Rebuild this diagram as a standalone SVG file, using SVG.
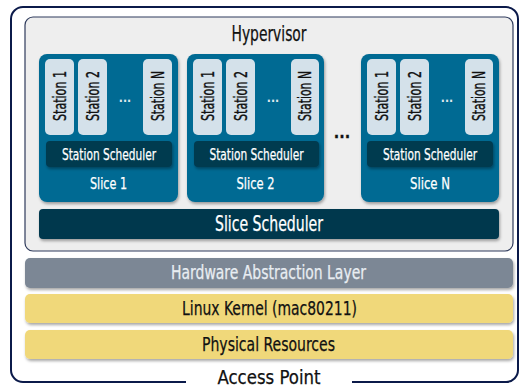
<svg xmlns="http://www.w3.org/2000/svg" width="520" height="389" viewBox="0 0 520 389">
<defs>
<style>
text{font-family:"Liberation Sans Narrow","DejaVu Sans Condensed","Liberation Sans",sans-serif;text-anchor:middle}
.slice{fill:#026a93}
.st{fill:#d4e1ea}
.sched{fill:#053a50}
.w{fill:#ffffff;stroke:#ffffff;stroke-width:0.25}
.k{fill:#111111;stroke:#111111;stroke-width:0.25}
.stt{font-size:17px;fill:#111;stroke:#111;stroke-width:0.35;dominant-baseline:central}
.dots{font-size:12px;fill:#e0e8ee;font-weight:bold}
.yel{fill:#f0d87a}
</style>
<filter id="sh" x="-10%" y="-10%" width="120%" height="130%">
<feDropShadow dx="1" dy="2" stdDeviation="1.5" flood-color="#000" flood-opacity="0.35"/>
</filter>
</defs>
<rect width="520" height="389" fill="#ffffff"/>
<g id="access-point">
<path d="M186 382 H23 A12 12 0 0 1 11 370 V19 A12 12 0 0 1 23 7 H506 A12 12 0 0 1 518 19 V370 A12 12 0 0 1 506 382 H352" fill="none" stroke="#0b1a4a" stroke-width="2"/>
<text x="269" y="384" font-size="19" class="k" textLength="103" lengthAdjust="spacingAndGlyphs">Access Point</text>
</g>
<g id="hypervisor">
<rect x="25" y="17" width="488" height="234" rx="8" fill="#eeeeee" stroke="#2f3b5c" stroke-width="1.2"/>
<text x="269" y="41" font-size="21" class="k" textLength="75" lengthAdjust="spacingAndGlyphs">Hypervisor</text>
</g>
<g id="slice1">
<rect x="39" y="54" width="139" height="148" rx="8" class="slice" filter="url(#sh)"/>
<rect x="45" y="59" width="29" height="76" rx="5" class="st"/>
<rect x="78" y="59" width="29" height="76" rx="5" class="st"/>
<rect x="143" y="59" width="29" height="76" rx="5" class="st"/>
<text class="stt" transform="translate(59.5,96) rotate(-90)" textLength="50" lengthAdjust="spacingAndGlyphs">Station 1</text>
<text class="stt" transform="translate(92.5,96) rotate(-90)" textLength="50" lengthAdjust="spacingAndGlyphs">Station 2</text>
<text class="stt" transform="translate(157.5,96) rotate(-90)" textLength="50" lengthAdjust="spacingAndGlyphs">Station N</text>
<text x="125" y="102" class="dots">...</text>
<rect x="46" y="141" width="126" height="26" rx="4" class="sched" filter="url(#sh)"/>
<text x="109" y="160" font-size="16" class="w" textLength="94" lengthAdjust="spacingAndGlyphs">Station Scheduler</text>
<text x="108.5" y="189" font-size="16.5" class="w" textLength="37" lengthAdjust="spacingAndGlyphs">Slice 1</text>
</g>
<g id="slice2">
<rect x="187" y="54" width="137" height="148" rx="8" class="slice" filter="url(#sh)"/>
<rect x="193" y="59" width="29" height="76" rx="5" class="st"/>
<rect x="226" y="59" width="29" height="76" rx="5" class="st"/>
<rect x="291" y="59" width="28" height="76" rx="5" class="st"/>
<text class="stt" transform="translate(207.5,96) rotate(-90)" textLength="50" lengthAdjust="spacingAndGlyphs">Station 1</text>
<text class="stt" transform="translate(240.5,96) rotate(-90)" textLength="50" lengthAdjust="spacingAndGlyphs">Station 2</text>
<text class="stt" transform="translate(305,96) rotate(-90)" textLength="50" lengthAdjust="spacingAndGlyphs">Station N</text>
<text x="273" y="102" class="dots">...</text>
<rect x="194" y="141" width="125" height="26" rx="4" class="sched" filter="url(#sh)"/>
<text x="256.5" y="160" font-size="16" class="w" textLength="94" lengthAdjust="spacingAndGlyphs">Station Scheduler</text>
<text x="255.5" y="189" font-size="16.5" class="w" textLength="38" lengthAdjust="spacingAndGlyphs">Slice 2</text>
</g>
<g id="ellipsis">
<text x="342" y="138" font-size="16" class="k" font-weight="bold">...</text>
</g>
<g id="sliceN">
<rect x="361" y="54" width="138" height="148" rx="8" class="slice" filter="url(#sh)"/>
<rect x="367" y="59" width="29" height="76" rx="5" class="st"/>
<rect x="400" y="59" width="29" height="76" rx="5" class="st"/>
<rect x="465" y="59" width="28" height="76" rx="5" class="st"/>
<text class="stt" transform="translate(381.5,96) rotate(-90)" textLength="50" lengthAdjust="spacingAndGlyphs">Station 1</text>
<text class="stt" transform="translate(414.5,96) rotate(-90)" textLength="50" lengthAdjust="spacingAndGlyphs">Station 2</text>
<text class="stt" transform="translate(479,96) rotate(-90)" textLength="50" lengthAdjust="spacingAndGlyphs">Station N</text>
<text x="447" y="102" class="dots">...</text>
<rect x="367" y="141" width="126" height="26" rx="4" class="sched" filter="url(#sh)"/>
<text x="430" y="160" font-size="16" class="w" textLength="94" lengthAdjust="spacingAndGlyphs">Station Scheduler</text>
<text x="430" y="189" font-size="16.5" class="w" textLength="40" lengthAdjust="spacingAndGlyphs">Slice N</text>
</g>
<g id="slice-scheduler">
<rect x="39" y="209" width="460" height="30" rx="4" fill="#03374d" filter="url(#sh)"/>
<text x="269" y="231" font-size="20.5" class="w" textLength="108" lengthAdjust="spacingAndGlyphs">Slice Scheduler</text>
</g>
<g id="hal">
<rect x="25" y="258" width="488" height="30" rx="5" fill="#7b8795" filter="url(#sh)"/>
<text x="268.5" y="279" font-size="19.5" fill="#e8edf2" stroke="#e8edf2" stroke-width="0.25" textLength="195" lengthAdjust="spacingAndGlyphs">Hardware Abstraction Layer</text>
</g>
<g id="linux-kernel">
<rect x="25" y="294" width="488" height="29" rx="5" class="yel" filter="url(#sh)"/>
<text x="269.5" y="315" font-size="19.5" class="k" textLength="175" lengthAdjust="spacingAndGlyphs">Linux Kernel (mac80211)</text>
</g>
<g id="physical-resources">
<rect x="25" y="330" width="488" height="29" rx="5" class="yel" filter="url(#sh)"/>
<text x="268.5" y="351" font-size="19.5" class="k" textLength="133" lengthAdjust="spacingAndGlyphs">Physical Resources</text>
</g>
</svg>
